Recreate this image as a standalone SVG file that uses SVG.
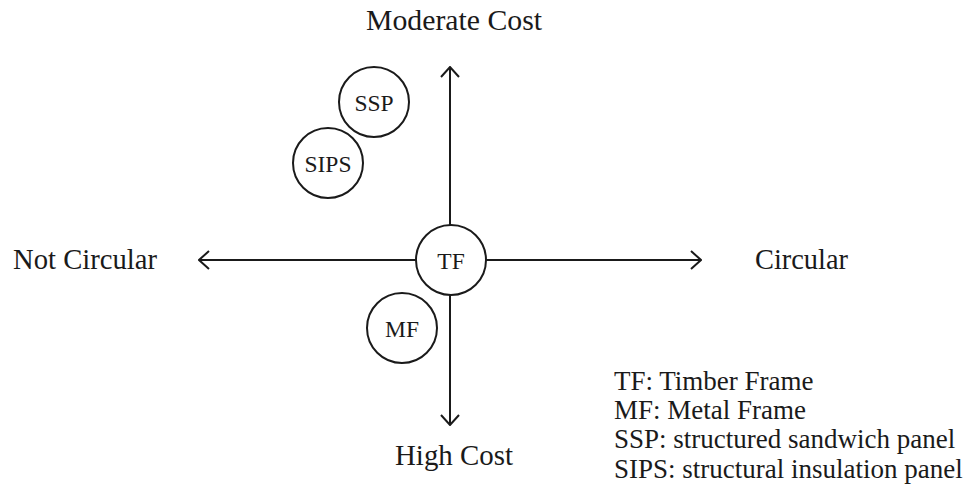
<svg xmlns="http://www.w3.org/2000/svg" width="976" height="493" viewBox="0 0 976 493">
<style>
text{font-family:"Liberation Serif","Times New Roman",serif;fill:#1a1a1a}
.lbl{font-size:28.5px}
.node{font-size:23.5px;text-anchor:middle}
.leg{font-size:27px}
circle{fill:#fff;stroke:#1a1a1a;stroke-width:2}
.ax{stroke:#1a1a1a;stroke-width:2;fill:none}
</style>
<defs>
<marker id="arr" viewBox="0 0 12 20" refX="11" refY="10" markerWidth="12" markerHeight="20" markerUnits="userSpaceOnUse" orient="auto">
<path d="M1,1 L11,10 L1,19" fill="none" stroke="#1a1a1a" stroke-width="2"/>
</marker>
</defs>
<rect width="976" height="493" fill="#fff"/>
<g id="connectors">
<line class="ax" x1="450" y1="225" x2="450" y2="67" marker-end="url(#arr)"/>
<line class="ax" x1="450" y1="295" x2="450" y2="425" marker-end="url(#arr)"/>
<line class="ax" x1="416" y1="260" x2="199" y2="260" marker-end="url(#arr)"/>
<line class="ax" x1="486" y1="260" x2="701" y2="260" marker-end="url(#arr)"/>
</g>
<g id="TF"><circle cx="451" cy="260" r="35"/><text class="node" x="451" y="269">TF</text></g>
<g id="SSP"><circle cx="374" cy="102" r="35"/><text class="node" x="374" y="111">SSP</text></g>
<g id="SIPS"><circle cx="328" cy="163" r="35"/><text class="node" x="328" y="172">SIPS</text></g>
<g id="MF"><circle cx="402" cy="328" r="35"/><text class="node" x="402" y="337">MF</text></g>
<g id="labels">
<text class="lbl" x="366" y="30" textLength="176" lengthAdjust="spacingAndGlyphs">Moderate Cost</text>
<text class="lbl" x="395" y="465" textLength="118" lengthAdjust="spacingAndGlyphs">High Cost</text>
<text class="lbl" x="13" y="269" textLength="144" lengthAdjust="spacingAndGlyphs">Not Circular</text>
<text class="lbl" x="755" y="269" textLength="93" lengthAdjust="spacingAndGlyphs">Circular</text>
</g>
<g id="legend">
<text class="leg" x="614" y="390">TF: Timber Frame</text>
<text class="leg" x="614" y="419">MF: Metal Frame</text>
<text class="leg" x="614" y="448">SSP: structured sandwich panel</text>
<text class="leg" x="614" y="478">SIPS: structural insulation panel</text>
</g>
</svg>
